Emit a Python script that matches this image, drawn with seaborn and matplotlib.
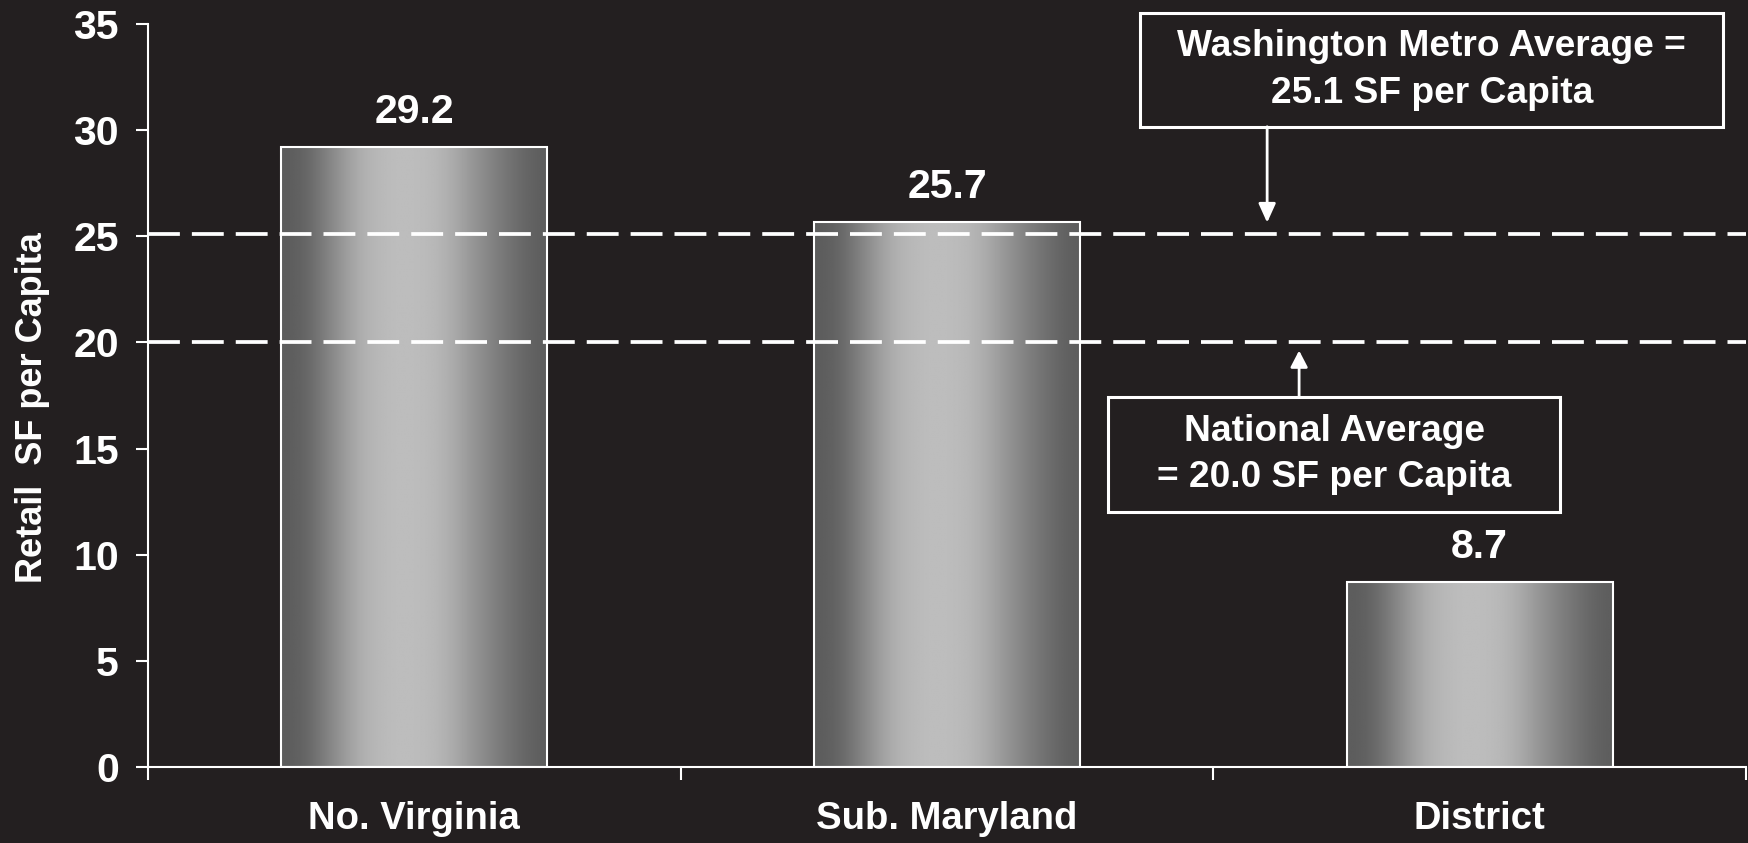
import numpy as np
import pandas as pd
import matplotlib
matplotlib.use("Agg")
import matplotlib.pyplot as plt
import seaborn as sns
from matplotlib.patches import Rectangle

# --- data -------------------------------------------------------------
regions = ["No. Virginia", "Sub. Maryland", "District"]
sf_per_capita = [29.2, 25.7, 8.7]
metro_average = 25.1
national_average = 20.0
y_ticks = [0, 5, 10, 15, 20, 25, 30, 35]
metro_text = "Washington Metro Average =\n25.1 SF per Capita"
national_text = "National Average\n= 20.0 SF per Capita"

# --- style ------------------------------------------------------------
BG = "#231f20"
FG = "white"
sns.set_theme(style="ticks")
plt.rcParams["font.family"] = ["Liberation Sans", "DejaVu Sans"]
plt.rcParams["font.weight"] = "bold"
plt.rcParams["axes.facecolor"] = BG
plt.rcParams["figure.facecolor"] = BG

fig = plt.figure(figsize=(17.49, 8.43), dpi=100)
ax = fig.add_axes([0.0846, 0.0905, 0.9137, 0.8807])
ax.set_facecolor(BG)

df = pd.DataFrame({"region": regions, "value": sf_per_capita})
sns.barplot(data=df, x="region", y="value", width=0.5, color="#999999",
            edgecolor=FG, linewidth=1.5, ax=ax, zorder=3)
bars = list(ax.patches)

# smooth horizontal grey shading inside every bar
stops_x = [0.0, 0.08, 0.30, 0.45, 0.60, 0.80, 0.95, 1.0]
stops_v = [0.36, 0.37, 0.70, 0.75, 0.72, 0.50, 0.37, 0.36]
n = 512
xs = np.linspace(0, 1, n)
profile = np.interp(xs, stops_x, stops_v)
k = np.exp(-0.5 * (np.arange(-60, 61) / 22.0) ** 2)
k /= k.sum()
profile = np.convolve(np.pad(profile, 60, mode="edge"), k, mode="valid")
shade = np.tile(profile, (2, 1))
for p in bars:
    x0, w, h = p.get_x(), p.get_width(), p.get_height()
    ax.imshow(shade, cmap="gray", vmin=0, vmax=1, aspect="auto",
              extent=[x0, x0 + w, 0, h], zorder=2, interpolation="bilinear")
    p.set_facecolor("none")
    p.set_zorder(3)

ax.bar_label(ax.containers[0], labels=[f"{v:.1f}" for v in sf_per_capita],
             padding=11.5, fontsize=29.5, color=FG, fontweight="bold")

# reference averages
for level in (metro_average, national_average):
    ax.axhline(level, color=FG, lw=2.7, dashes=(8.5, 3.2), zorder=4)

# axes
ax.set_xlim(-0.5, len(regions) - 0.5)
ax.set_ylim(0, 35)
ax.set_yticks(y_ticks)
ax.set_xlabel("")
ax.set_ylabel("Retail  SF per Capita", fontsize=26, color=FG, fontweight="bold")
ax.yaxis.set_label_coords(-0.0616, 0.483)
for s in ("top", "right"):
    ax.spines[s].set_visible(False)
for s in ("left", "bottom"):
    ax.spines[s].set_color(FG)
    ax.spines[s].set_linewidth(1.5)
    ax.spines[s].set_zorder(5)
ax.tick_params(axis="y", colors=FG, direction="out", length=9, width=1.5,
               pad=12, labelsize=29.5)
ax.tick_params(axis="x", which="major", length=0, pad=25, labelsize=27.5,
               colors=FG)
ax.set_xticks(np.arange(-0.5, len(regions)), minor=True)
ax.tick_params(axis="x", which="minor", direction="out", length=9, width=1.5,
               color=FG)
for lab in ax.get_xticklabels() + ax.get_yticklabels():
    lab.set_fontweight("bold")

# callout boxes
ax.add_patch(Rectangle((1.363, 30.17), 1.094, 5.38, facecolor=BG,
                       edgecolor=FG, lw=2.2, clip_on=False, zorder=6))
ax.text(1.91, 32.86, metro_text, ha="center", va="center", fontsize=26.7,
        color=FG, fontweight="bold", linespacing=1.45, zorder=7)
ax.annotate("", xy=(1.601, metro_average + 0.55), xytext=(1.601, 30.17),
            arrowprops=dict(arrowstyle="-|>,head_length=1.15,head_width=0.52",
                            color=FG, lw=2, shrinkA=0, shrinkB=0,
                            mutation_scale=10), zorder=6)

ax.add_patch(Rectangle((1.303, 12.01), 0.848, 5.42, facecolor=BG,
                       edgecolor=FG, lw=2.2, clip_on=False, zorder=6))
ax.text(1.727, 14.72, national_text, ha="center", va="center", fontsize=26.7,
        color=FG, fontweight="bold", linespacing=1.4, zorder=7)
ax.annotate("", xy=(1.661, national_average - 0.38), xytext=(1.661, 17.43),
            arrowprops=dict(arrowstyle="-|>,head_length=1.0,head_width=0.52",
                            color=FG, lw=2, shrinkA=0, shrinkB=0,
                            mutation_scale=10), zorder=6)

fig.savefig("out.png", dpi=100, facecolor=BG)
